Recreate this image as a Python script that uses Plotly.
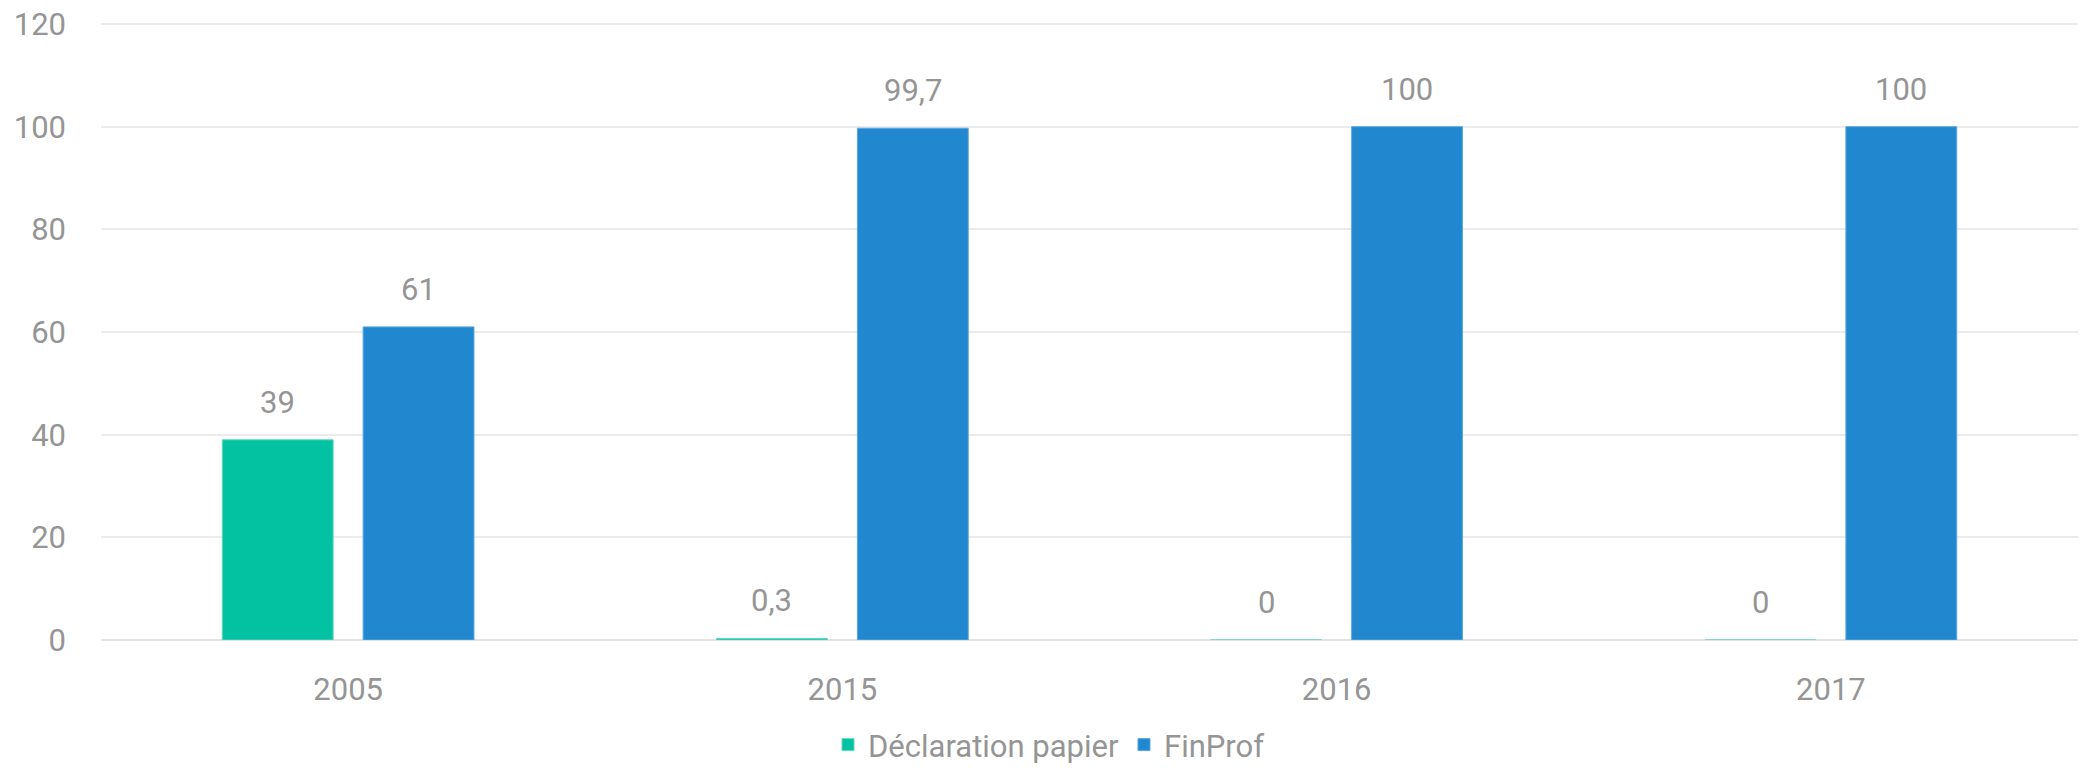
import plotly.graph_objects as go

years = ["2005", "2015", "2016", "2017"]
papier = [39, 0.3, 0, 0]
finprof = [61, 99.7, 100, 100]
papier_labels = ["39", "0,3", "0", "0"]
finprof_labels = ["61", "99,7", "100", "100"]
y_ticks = [0, 20, 40, 60, 80, 100, 120]

GREEN = "#03C2A1"
BLUE = "#2187CF"
TXT = "#959595"
FONT = "Roboto"
FS = 31

BARGAP = 0.43
GROUPGAP = 0.213

W, H = 2082, 764
ML, MR, MT, MB = 93, 12, 15, 132

fig = go.Figure()
fig.add_trace(go.Bar(
    name="Déclaration papier", x=years, y=papier,
    marker=dict(color=GREEN, line=dict(color="#5fd6c2", width=1)),
))
fig.add_trace(go.Bar(
    name="FinProf", x=years, y=finprof,
    marker=dict(color=BLUE, line=dict(color="#5aa8e0", width=1)),
))

# value labels above bars (offset = half a bar slot, from the bar gap settings)
plot_w = W - ML - MR
slot_px = plot_w / len(years) * (1 - BARGAP) / 2
for vals, labs, sign in [(papier, papier_labels, -1), (finprof, finprof_labels, 1)]:
    for i, (yv, lab) in enumerate(zip(vals, labs)):
        fig.add_annotation(
            x=i, y=yv, xref="x", yref="y", text=lab, showarrow=False,
            xshift=sign * slot_px / 2, yshift=17, yanchor="bottom",
            font=dict(family=FONT, size=FS, color=TXT),
        )

fig.update_layout(
    width=W, height=H,
    barmode="group", bargap=BARGAP, bargroupgap=GROUPGAP,
    plot_bgcolor="white", paper_bgcolor="white",
    margin=dict(l=ML, r=MR, t=MT, b=MB, autoexpand=False),
    font=dict(family=FONT, size=FS, color=TXT),
    showlegend=True,
    legend=dict(
        orientation="h", xref="container", yref="container",
        x=0.5, xanchor="center", y=0.0, yanchor="bottom",
        font=dict(family=FONT, size=FS, color=TXT),
        itemclick=False,
    ),
    xaxis=dict(
        type="category", range=[-0.5, len(years) - 0.5],
        showgrid=False, showline=False, zeroline=False,
        ticks="outside", ticklen=22, tickcolor="rgba(0,0,0,0)",
        tickfont=dict(family=FONT, size=FS, color=TXT),
    ),
    yaxis=dict(
        range=[0, 120.2], tickvals=y_ticks,
        showgrid=True, gridcolor="#ebebeb", gridwidth=1.5,
        zeroline=True, zerolinecolor="#e3e3e3", zerolinewidth=1.5,
        showline=False, ticklabelstandoff=34, ticklabeloverflow="allow",
        tickfont=dict(family=FONT, size=FS, color=TXT),
    ),
)

fig.write_html("out.html")
